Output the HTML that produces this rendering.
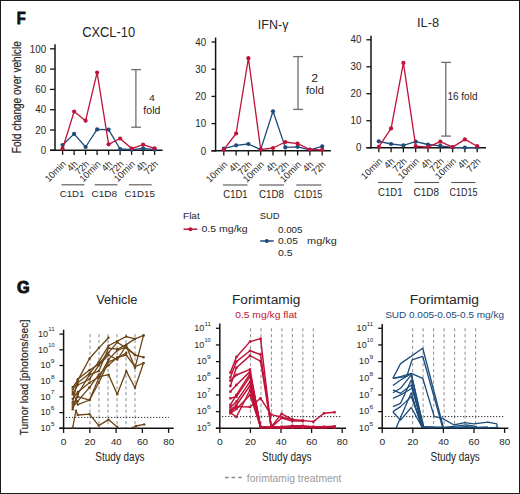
<!DOCTYPE html><html><head><meta charset="utf-8"><style>html,body{margin:0;padding:0;background:#fff;width:520px;height:494px;overflow:hidden}</style></head><body><svg width="520" height="494" viewBox="0 0 520 494" style="display:block;font-family:'Liberation Sans',sans-serif">
<rect x="0" y="0" width="520" height="494" fill="#fff"/>
<rect x="0.5" y="0.5" width="519" height="493" fill="none" stroke="#1a1a1a" stroke-width="1"/>
<text x="16.87" y="24.25" style="font-size:15.84px;font-weight:bold;fill:#111;stroke:#111;stroke-width:0.9px" textLength="8.91" lengthAdjust="spacingAndGlyphs">F</text>
<text x="82.15" y="36.5" style="font-size:14.75px;fill:#262626;stroke:#262626;stroke-width:0px" textLength="52.96" lengthAdjust="spacingAndGlyphs">CXCL-10</text>
<line x1="55" y1="44.3" x2="55" y2="151" stroke="#141414" stroke-width="1.5"/>
<line x1="50" y1="150.3" x2="55" y2="150.3" stroke="#141414" stroke-width="1.3"/>
<text x="40.66" y="154" style="font-size:10.6px;fill:#262626;stroke:#262626;stroke-width:0px" textLength="5.42" lengthAdjust="spacingAndGlyphs">0</text>
<line x1="50" y1="130" x2="55" y2="130" stroke="#141414" stroke-width="1.3"/>
<text x="35.24" y="133.7" style="font-size:10.6px;fill:#262626;stroke:#262626;stroke-width:0px" textLength="10.85" lengthAdjust="spacingAndGlyphs">20</text>
<line x1="50" y1="109.7" x2="55" y2="109.7" stroke="#141414" stroke-width="1.3"/>
<text x="35.24" y="113.4" style="font-size:10.6px;fill:#262626;stroke:#262626;stroke-width:0px" textLength="10.85" lengthAdjust="spacingAndGlyphs">40</text>
<line x1="50" y1="89.4" x2="55" y2="89.4" stroke="#141414" stroke-width="1.3"/>
<text x="35.24" y="93.1" style="font-size:10.6px;fill:#262626;stroke:#262626;stroke-width:0px" textLength="10.85" lengthAdjust="spacingAndGlyphs">60</text>
<line x1="50" y1="69.1" x2="55" y2="69.1" stroke="#141414" stroke-width="1.3"/>
<text x="35.24" y="72.8" style="font-size:10.6px;fill:#262626;stroke:#262626;stroke-width:0px" textLength="10.85" lengthAdjust="spacingAndGlyphs">80</text>
<line x1="50" y1="48.8" x2="55" y2="48.8" stroke="#141414" stroke-width="1.3"/>
<text x="29.81" y="52.5" style="font-size:10.6px;fill:#262626;stroke:#262626;stroke-width:0px" textLength="16.27" lengthAdjust="spacingAndGlyphs">100</text>
<line x1="50" y1="150.3" x2="162.6" y2="150.3" stroke="#141414" stroke-width="1.5"/>
<line x1="62.6" y1="150.3" x2="62.6" y2="154.9" stroke="#141414" stroke-width="1.3"/>
<line x1="74.1" y1="150.3" x2="74.1" y2="154.9" stroke="#141414" stroke-width="1.3"/>
<line x1="85.6" y1="150.3" x2="85.6" y2="154.9" stroke="#141414" stroke-width="1.3"/>
<line x1="97.1" y1="150.3" x2="97.1" y2="154.9" stroke="#141414" stroke-width="1.3"/>
<line x1="108.6" y1="150.3" x2="108.6" y2="154.9" stroke="#141414" stroke-width="1.3"/>
<line x1="120.1" y1="150.3" x2="120.1" y2="154.9" stroke="#141414" stroke-width="1.3"/>
<line x1="131.6" y1="150.3" x2="131.6" y2="154.9" stroke="#141414" stroke-width="1.3"/>
<line x1="143.1" y1="150.3" x2="143.1" y2="154.9" stroke="#141414" stroke-width="1.3"/>
<line x1="154.6" y1="150.3" x2="154.6" y2="154.9" stroke="#141414" stroke-width="1.3"/>
<polyline points="62.6,145 74.1,133.9 85.6,147 97.1,129.4 108.6,129.6 120.1,149 131.6,149.7 143.1,148.4 154.6,149.7" fill="none" stroke="#1c4c7a" stroke-width="1.3" stroke-linejoin="round"/>
<circle cx="62.6" cy="145" r="2.1" fill="#1c4c7a"/>
<circle cx="74.1" cy="133.9" r="2.1" fill="#1c4c7a"/>
<circle cx="85.6" cy="147" r="2.1" fill="#1c4c7a"/>
<circle cx="97.1" cy="129.4" r="2.1" fill="#1c4c7a"/>
<circle cx="108.6" cy="129.6" r="2.1" fill="#1c4c7a"/>
<circle cx="120.1" cy="149" r="2.1" fill="#1c4c7a"/>
<circle cx="131.6" cy="149.7" r="2.1" fill="#1c4c7a"/>
<circle cx="143.1" cy="148.4" r="2.1" fill="#1c4c7a"/>
<circle cx="154.6" cy="149.7" r="2.1" fill="#1c4c7a"/>
<polyline points="62.6,148.7 74.1,111.6 85.6,120.7 97.1,72.6 108.6,144.3 120.1,138.5 131.6,148.6 143.1,144.6 154.6,148.4" fill="none" stroke="#bf1238" stroke-width="1.3" stroke-linejoin="round"/>
<circle cx="62.6" cy="148.7" r="2.1" fill="#bf1238"/>
<circle cx="74.1" cy="111.6" r="2.1" fill="#bf1238"/>
<circle cx="85.6" cy="120.7" r="2.1" fill="#bf1238"/>
<circle cx="97.1" cy="72.6" r="2.1" fill="#bf1238"/>
<circle cx="108.6" cy="144.3" r="2.1" fill="#bf1238"/>
<circle cx="120.1" cy="138.5" r="2.1" fill="#bf1238"/>
<circle cx="131.6" cy="148.6" r="2.1" fill="#bf1238"/>
<circle cx="143.1" cy="144.6" r="2.1" fill="#bf1238"/>
<circle cx="154.6" cy="148.4" r="2.1" fill="#bf1238"/>
<line x1="135.9" y1="69.6" x2="135.9" y2="127.2" stroke="#6e6e6e" stroke-width="1.3"/>
<line x1="131.2" y1="69.6" x2="141" y2="69.6" stroke="#6e6e6e" stroke-width="1.3"/>
<line x1="131.2" y1="127.2" x2="141" y2="127.2" stroke="#6e6e6e" stroke-width="1.3"/>
<g transform="translate(66.7 164.5) rotate(-45) scale(1 1)"><text x="0" y="0" text-anchor="end" style="font-size:9.4px;fill:#262626;stroke:#262626;stroke-width:0px">10min</text></g>
<g transform="translate(78.2 164.5) rotate(-45) scale(1 1)"><text x="0" y="0" text-anchor="end" style="font-size:9.4px;fill:#262626;stroke:#262626;stroke-width:0px">4h</text></g>
<g transform="translate(89.7 164.5) rotate(-45) scale(1 1)"><text x="0" y="0" text-anchor="end" style="font-size:9.4px;fill:#262626;stroke:#262626;stroke-width:0px">72h</text></g>
<g transform="translate(101.2 164.5) rotate(-45) scale(1 1)"><text x="0" y="0" text-anchor="end" style="font-size:9.4px;fill:#262626;stroke:#262626;stroke-width:0px">10min</text></g>
<g transform="translate(112.7 164.5) rotate(-45) scale(1 1)"><text x="0" y="0" text-anchor="end" style="font-size:9.4px;fill:#262626;stroke:#262626;stroke-width:0px">4h</text></g>
<g transform="translate(124.2 164.5) rotate(-45) scale(1 1)"><text x="0" y="0" text-anchor="end" style="font-size:9.4px;fill:#262626;stroke:#262626;stroke-width:0px">72h</text></g>
<g transform="translate(135.7 164.5) rotate(-45) scale(1 1)"><text x="0" y="0" text-anchor="end" style="font-size:9.4px;fill:#262626;stroke:#262626;stroke-width:0px">10min</text></g>
<g transform="translate(147.2 164.5) rotate(-45) scale(1 1)"><text x="0" y="0" text-anchor="end" style="font-size:9.4px;fill:#262626;stroke:#262626;stroke-width:0px">4h</text></g>
<g transform="translate(158.7 164.5) rotate(-45) scale(1 1)"><text x="0" y="0" text-anchor="end" style="font-size:9.4px;fill:#262626;stroke:#262626;stroke-width:0px">72h</text></g>
<line x1="61.5" y1="184.8" x2="84.4" y2="184.8" stroke="#555555" stroke-width="1.1"/>
<line x1="94.7" y1="184.8" x2="117.5" y2="184.8" stroke="#555555" stroke-width="1.1"/>
<line x1="128.9" y1="184.8" x2="151.7" y2="184.8" stroke="#555555" stroke-width="1.1"/>
<text x="59.71" y="197" style="font-size:9.74px;fill:#262626;stroke:#262626;stroke-width:0px" textLength="24.76" lengthAdjust="spacingAndGlyphs">C1D1</text>
<text x="91.49" y="197" style="font-size:9.74px;fill:#262626;stroke:#262626;stroke-width:0px" textLength="25.65" lengthAdjust="spacingAndGlyphs">C1D8</text>
<text x="124.51" y="197" style="font-size:9.74px;fill:#262626;stroke:#262626;stroke-width:0px" textLength="30.3" lengthAdjust="spacingAndGlyphs">C1D15</text>
<text x="148.96" y="101.2" style="font-size:9.01px;fill:#262626;stroke:#262626;stroke-width:0px" textLength="5.85" lengthAdjust="spacingAndGlyphs">4</text>
<text x="143.35" y="113.7" style="font-size:10.35px;fill:#262626;stroke:#262626;stroke-width:0px" textLength="17.03" lengthAdjust="spacingAndGlyphs">fold</text>
<g transform="translate(21.3 152.4) rotate(-90)"><text x="-0.83" y="0" style="font-size:13.11px;fill:#262626;stroke:#262626;stroke-width:0.2px" textLength="111.97" lengthAdjust="spacingAndGlyphs">Fold change over vehicle</text></g>
<text x="257.84" y="29" style="font-size:12.79px;fill:#262626;stroke:#262626;stroke-width:0px" textLength="30.6" lengthAdjust="spacingAndGlyphs">IFN-γ</text>
<line x1="215.6" y1="37.5" x2="215.6" y2="151.5" stroke="#141414" stroke-width="1.5"/>
<line x1="211.5" y1="150.8" x2="215.6" y2="150.8" stroke="#141414" stroke-width="1.3"/>
<text x="200.66" y="154.5" style="font-size:10.6px;fill:#262626;stroke:#262626;stroke-width:0px" textLength="5.42" lengthAdjust="spacingAndGlyphs">0</text>
<line x1="211.5" y1="123.6" x2="215.6" y2="123.6" stroke="#141414" stroke-width="1.3"/>
<text x="195.24" y="127.3" style="font-size:10.6px;fill:#262626;stroke:#262626;stroke-width:0px" textLength="10.85" lengthAdjust="spacingAndGlyphs">10</text>
<line x1="211.5" y1="96.4" x2="215.6" y2="96.4" stroke="#141414" stroke-width="1.3"/>
<text x="195.24" y="100.1" style="font-size:10.6px;fill:#262626;stroke:#262626;stroke-width:0px" textLength="10.85" lengthAdjust="spacingAndGlyphs">20</text>
<line x1="211.5" y1="69.2" x2="215.6" y2="69.2" stroke="#141414" stroke-width="1.3"/>
<text x="195.24" y="72.9" style="font-size:10.6px;fill:#262626;stroke:#262626;stroke-width:0px" textLength="10.85" lengthAdjust="spacingAndGlyphs">30</text>
<line x1="211.5" y1="42" x2="215.6" y2="42" stroke="#141414" stroke-width="1.3"/>
<text x="195.24" y="45.7" style="font-size:10.6px;fill:#262626;stroke:#262626;stroke-width:0px" textLength="10.85" lengthAdjust="spacingAndGlyphs">40</text>
<line x1="211.5" y1="150.8" x2="330.9" y2="150.8" stroke="#141414" stroke-width="1.5"/>
<line x1="223.8" y1="150.8" x2="223.8" y2="155.4" stroke="#141414" stroke-width="1.3"/>
<line x1="236.1" y1="150.8" x2="236.1" y2="155.4" stroke="#141414" stroke-width="1.3"/>
<line x1="248.4" y1="150.8" x2="248.4" y2="155.4" stroke="#141414" stroke-width="1.3"/>
<line x1="260.7" y1="150.8" x2="260.7" y2="155.4" stroke="#141414" stroke-width="1.3"/>
<line x1="273" y1="150.8" x2="273" y2="155.4" stroke="#141414" stroke-width="1.3"/>
<line x1="285.3" y1="150.8" x2="285.3" y2="155.4" stroke="#141414" stroke-width="1.3"/>
<line x1="297.6" y1="150.8" x2="297.6" y2="155.4" stroke="#141414" stroke-width="1.3"/>
<line x1="309.9" y1="150.8" x2="309.9" y2="155.4" stroke="#141414" stroke-width="1.3"/>
<line x1="322.2" y1="150.8" x2="322.2" y2="155.4" stroke="#141414" stroke-width="1.3"/>
<polyline points="223.8,148.7 236.1,145.3 248.4,144 260.7,149.6 273,111.3 285.3,147.4 297.6,146.8 309.9,149.8 322.2,146.4" fill="none" stroke="#1c4c7a" stroke-width="1.3" stroke-linejoin="round"/>
<circle cx="223.8" cy="148.7" r="2.1" fill="#1c4c7a"/>
<circle cx="236.1" cy="145.3" r="2.1" fill="#1c4c7a"/>
<circle cx="248.4" cy="144" r="2.1" fill="#1c4c7a"/>
<circle cx="260.7" cy="149.6" r="2.1" fill="#1c4c7a"/>
<circle cx="273" cy="111.3" r="2.1" fill="#1c4c7a"/>
<circle cx="285.3" cy="147.4" r="2.1" fill="#1c4c7a"/>
<circle cx="297.6" cy="146.8" r="2.1" fill="#1c4c7a"/>
<circle cx="309.9" cy="149.8" r="2.1" fill="#1c4c7a"/>
<circle cx="322.2" cy="146.4" r="2.1" fill="#1c4c7a"/>
<polyline points="223.8,149.6 236.1,133.5 248.4,58.2 260.7,149.6 273,148 285.3,142 297.6,143.7 309.9,149.5 322.2,149.8" fill="none" stroke="#bf1238" stroke-width="1.3" stroke-linejoin="round"/>
<circle cx="223.8" cy="149.6" r="2.1" fill="#bf1238"/>
<circle cx="236.1" cy="133.5" r="2.1" fill="#bf1238"/>
<circle cx="248.4" cy="58.2" r="2.1" fill="#bf1238"/>
<circle cx="260.7" cy="149.6" r="2.1" fill="#bf1238"/>
<circle cx="273" cy="148" r="2.1" fill="#bf1238"/>
<circle cx="285.3" cy="142" r="2.1" fill="#bf1238"/>
<circle cx="297.6" cy="143.7" r="2.1" fill="#bf1238"/>
<circle cx="309.9" cy="149.5" r="2.1" fill="#bf1238"/>
<circle cx="322.2" cy="149.8" r="2.1" fill="#bf1238"/>
<line x1="298" y1="56.6" x2="298" y2="109.4" stroke="#6e6e6e" stroke-width="1.3"/>
<line x1="293.1" y1="56.6" x2="303" y2="56.6" stroke="#6e6e6e" stroke-width="1.3"/>
<line x1="293.1" y1="109.4" x2="303" y2="109.4" stroke="#6e6e6e" stroke-width="1.3"/>
<g transform="translate(227.9 165) rotate(-45) scale(1 1)"><text x="0" y="0" text-anchor="end" style="font-size:9.4px;fill:#262626;stroke:#262626;stroke-width:0px">10min</text></g>
<g transform="translate(240.2 165) rotate(-45) scale(1 1)"><text x="0" y="0" text-anchor="end" style="font-size:9.4px;fill:#262626;stroke:#262626;stroke-width:0px">4h</text></g>
<g transform="translate(252.5 165) rotate(-45) scale(1 1)"><text x="0" y="0" text-anchor="end" style="font-size:9.4px;fill:#262626;stroke:#262626;stroke-width:0px">72h</text></g>
<g transform="translate(264.8 165) rotate(-45) scale(1 1)"><text x="0" y="0" text-anchor="end" style="font-size:9.4px;fill:#262626;stroke:#262626;stroke-width:0px">10min</text></g>
<g transform="translate(277.1 165) rotate(-45) scale(1 1)"><text x="0" y="0" text-anchor="end" style="font-size:9.4px;fill:#262626;stroke:#262626;stroke-width:0px">4h</text></g>
<g transform="translate(289.4 165) rotate(-45) scale(1 1)"><text x="0" y="0" text-anchor="end" style="font-size:9.4px;fill:#262626;stroke:#262626;stroke-width:0px">72h</text></g>
<g transform="translate(301.7 165) rotate(-45) scale(1 1)"><text x="0" y="0" text-anchor="end" style="font-size:9.4px;fill:#262626;stroke:#262626;stroke-width:0px">10min</text></g>
<g transform="translate(314 165) rotate(-45) scale(1 1)"><text x="0" y="0" text-anchor="end" style="font-size:9.4px;fill:#262626;stroke:#262626;stroke-width:0px">4h</text></g>
<g transform="translate(326.3 165) rotate(-45) scale(1 1)"><text x="0" y="0" text-anchor="end" style="font-size:9.4px;fill:#262626;stroke:#262626;stroke-width:0px">72h</text></g>
<line x1="223" y1="185" x2="247.5" y2="185" stroke="#555555" stroke-width="1.1"/>
<line x1="259.3" y1="185" x2="284" y2="185" stroke="#555555" stroke-width="1.1"/>
<line x1="296.3" y1="185" x2="321.3" y2="185" stroke="#555555" stroke-width="1.1"/>
<text x="223.32" y="198" style="font-size:10.31px;fill:#262626;stroke:#262626;stroke-width:0px" textLength="24.14" lengthAdjust="spacingAndGlyphs">C1D1</text>
<text x="259.01" y="198" style="font-size:10.31px;fill:#262626;stroke:#262626;stroke-width:0px" textLength="24.92" lengthAdjust="spacingAndGlyphs">C1D8</text>
<text x="294.04" y="198" style="font-size:10.31px;fill:#262626;stroke:#262626;stroke-width:0px" textLength="28.34" lengthAdjust="spacingAndGlyphs">C1D15</text>
<text x="311.38" y="82.4" style="font-size:10.6px;fill:#262626;stroke:#262626;stroke-width:0px" textLength="6.84" lengthAdjust="spacingAndGlyphs">2</text>
<text x="306.04" y="93.8" style="font-size:10.35px;fill:#262626;stroke:#262626;stroke-width:0px" textLength="17.87" lengthAdjust="spacingAndGlyphs">fold</text>
<text x="417.01" y="27.1" style="font-size:12.6px;fill:#262626;stroke:#262626;stroke-width:0px" textLength="22.14" lengthAdjust="spacingAndGlyphs">IL-8</text>
<line x1="371" y1="35.7" x2="371" y2="148.4" stroke="#141414" stroke-width="1.5"/>
<line x1="366.4" y1="147.7" x2="371" y2="147.7" stroke="#141414" stroke-width="1.3"/>
<text x="355.96" y="151.4" style="font-size:10.6px;fill:#262626;stroke:#262626;stroke-width:0px" textLength="5.42" lengthAdjust="spacingAndGlyphs">0</text>
<line x1="366.4" y1="120.72" x2="371" y2="120.72" stroke="#141414" stroke-width="1.3"/>
<text x="350.54" y="124.42" style="font-size:10.6px;fill:#262626;stroke:#262626;stroke-width:0px" textLength="10.85" lengthAdjust="spacingAndGlyphs">10</text>
<line x1="366.4" y1="93.74" x2="371" y2="93.74" stroke="#141414" stroke-width="1.3"/>
<text x="350.54" y="97.44" style="font-size:10.6px;fill:#262626;stroke:#262626;stroke-width:0px" textLength="10.85" lengthAdjust="spacingAndGlyphs">20</text>
<line x1="366.4" y1="66.76" x2="371" y2="66.76" stroke="#141414" stroke-width="1.3"/>
<text x="350.54" y="70.46" style="font-size:10.6px;fill:#262626;stroke:#262626;stroke-width:0px" textLength="10.85" lengthAdjust="spacingAndGlyphs">30</text>
<line x1="366.4" y1="39.78" x2="371" y2="39.78" stroke="#141414" stroke-width="1.3"/>
<text x="350.54" y="43.48" style="font-size:10.6px;fill:#262626;stroke:#262626;stroke-width:0px" textLength="10.85" lengthAdjust="spacingAndGlyphs">40</text>
<line x1="366.4" y1="147.7" x2="486" y2="147.7" stroke="#141414" stroke-width="1.5"/>
<line x1="378.8" y1="147.7" x2="378.8" y2="152.3" stroke="#141414" stroke-width="1.3"/>
<line x1="391.1" y1="147.7" x2="391.1" y2="152.3" stroke="#141414" stroke-width="1.3"/>
<line x1="403.4" y1="147.7" x2="403.4" y2="152.3" stroke="#141414" stroke-width="1.3"/>
<line x1="415.7" y1="147.7" x2="415.7" y2="152.3" stroke="#141414" stroke-width="1.3"/>
<line x1="428" y1="147.7" x2="428" y2="152.3" stroke="#141414" stroke-width="1.3"/>
<line x1="440.3" y1="147.7" x2="440.3" y2="152.3" stroke="#141414" stroke-width="1.3"/>
<line x1="452.6" y1="147.7" x2="452.6" y2="152.3" stroke="#141414" stroke-width="1.3"/>
<line x1="464.9" y1="147.7" x2="464.9" y2="152.3" stroke="#141414" stroke-width="1.3"/>
<line x1="477.2" y1="147.7" x2="477.2" y2="152.3" stroke="#141414" stroke-width="1.3"/>
<polyline points="378.8,141.3 391.1,144 403.4,145.3 415.7,141.7 428,144.5 440.3,145.8 452.6,147.4 464.9,147.6 477.2,147.6" fill="none" stroke="#1c4c7a" stroke-width="1.3" stroke-linejoin="round"/>
<circle cx="378.8" cy="141.3" r="2.1" fill="#1c4c7a"/>
<circle cx="391.1" cy="144" r="2.1" fill="#1c4c7a"/>
<circle cx="403.4" cy="145.3" r="2.1" fill="#1c4c7a"/>
<circle cx="415.7" cy="141.7" r="2.1" fill="#1c4c7a"/>
<circle cx="428" cy="144.5" r="2.1" fill="#1c4c7a"/>
<circle cx="440.3" cy="145.8" r="2.1" fill="#1c4c7a"/>
<circle cx="452.6" cy="147.4" r="2.1" fill="#1c4c7a"/>
<circle cx="464.9" cy="147.6" r="2.1" fill="#1c4c7a"/>
<circle cx="477.2" cy="147.6" r="2.1" fill="#1c4c7a"/>
<polyline points="378.8,146.9 391.1,128.4 403.4,62.9 415.7,146.2 428,147.1 440.3,141.7 452.6,147.1 464.9,139.4 477.2,146.2" fill="none" stroke="#bf1238" stroke-width="1.3" stroke-linejoin="round"/>
<circle cx="378.8" cy="146.9" r="2.1" fill="#bf1238"/>
<circle cx="391.1" cy="128.4" r="2.1" fill="#bf1238"/>
<circle cx="403.4" cy="62.9" r="2.1" fill="#bf1238"/>
<circle cx="415.7" cy="146.2" r="2.1" fill="#bf1238"/>
<circle cx="428" cy="147.1" r="2.1" fill="#bf1238"/>
<circle cx="440.3" cy="141.7" r="2.1" fill="#bf1238"/>
<circle cx="452.6" cy="147.1" r="2.1" fill="#bf1238"/>
<circle cx="464.9" cy="139.4" r="2.1" fill="#bf1238"/>
<circle cx="477.2" cy="146.2" r="2.1" fill="#bf1238"/>
<line x1="445.8" y1="62.4" x2="445.8" y2="136.1" stroke="#6e6e6e" stroke-width="1.3"/>
<line x1="441.2" y1="62.4" x2="451" y2="62.4" stroke="#6e6e6e" stroke-width="1.3"/>
<line x1="441.2" y1="136.1" x2="451" y2="136.1" stroke="#6e6e6e" stroke-width="1.3"/>
<g transform="translate(382.9 161.9) rotate(-45) scale(1 1)"><text x="0" y="0" text-anchor="end" style="font-size:9.4px;fill:#262626;stroke:#262626;stroke-width:0px">10min</text></g>
<g transform="translate(395.2 161.9) rotate(-45) scale(1 1)"><text x="0" y="0" text-anchor="end" style="font-size:9.4px;fill:#262626;stroke:#262626;stroke-width:0px">4h</text></g>
<g transform="translate(407.5 161.9) rotate(-45) scale(1 1)"><text x="0" y="0" text-anchor="end" style="font-size:9.4px;fill:#262626;stroke:#262626;stroke-width:0px">72h</text></g>
<g transform="translate(419.8 161.9) rotate(-45) scale(1 1)"><text x="0" y="0" text-anchor="end" style="font-size:9.4px;fill:#262626;stroke:#262626;stroke-width:0px">10min</text></g>
<g transform="translate(432.1 161.9) rotate(-45) scale(1 1)"><text x="0" y="0" text-anchor="end" style="font-size:9.4px;fill:#262626;stroke:#262626;stroke-width:0px">4h</text></g>
<g transform="translate(444.4 161.9) rotate(-45) scale(1 1)"><text x="0" y="0" text-anchor="end" style="font-size:9.4px;fill:#262626;stroke:#262626;stroke-width:0px">72h</text></g>
<g transform="translate(456.7 161.9) rotate(-45) scale(1 1)"><text x="0" y="0" text-anchor="end" style="font-size:9.4px;fill:#262626;stroke:#262626;stroke-width:0px">10min</text></g>
<g transform="translate(469 161.9) rotate(-45) scale(1 1)"><text x="0" y="0" text-anchor="end" style="font-size:9.4px;fill:#262626;stroke:#262626;stroke-width:0px">4h</text></g>
<g transform="translate(481.3 161.9) rotate(-45) scale(1 1)"><text x="0" y="0" text-anchor="end" style="font-size:9.4px;fill:#262626;stroke:#262626;stroke-width:0px">72h</text></g>
<line x1="378" y1="182.5" x2="402.5" y2="182.5" stroke="#555555" stroke-width="1.1"/>
<line x1="414.3" y1="182.5" x2="439" y2="182.5" stroke="#555555" stroke-width="1.1"/>
<line x1="451.3" y1="182.5" x2="475.5" y2="182.5" stroke="#555555" stroke-width="1.1"/>
<text x="378.01" y="196.2" style="font-size:10.31px;fill:#262626;stroke:#262626;stroke-width:0px" textLength="24.45" lengthAdjust="spacingAndGlyphs">C1D1</text>
<text x="413.49" y="196.2" style="font-size:10.31px;fill:#262626;stroke:#262626;stroke-width:0px" textLength="25.44" lengthAdjust="spacingAndGlyphs">C1D8</text>
<text x="449.55" y="196.2" style="font-size:10.31px;fill:#262626;stroke:#262626;stroke-width:0px" textLength="27.83" lengthAdjust="spacingAndGlyphs">C1D15</text>
<text x="447.44" y="100.4" style="font-size:10.07px;fill:#262626;stroke:#262626;stroke-width:0px" textLength="30.01" lengthAdjust="spacingAndGlyphs">16 fold</text>
<text x="183.08" y="219.2" style="font-size:8.97px;fill:#262626;stroke:#262626;stroke-width:0px" textLength="16.59" lengthAdjust="spacingAndGlyphs">Flat</text>
<line x1="183.5" y1="229.2" x2="197.3" y2="229.2" stroke="#bf1238" stroke-width="1.5"/>
<circle cx="190.4" cy="229.2" r="2" fill="#bf1238"/>
<text x="201.49" y="232.4" style="font-size:9.11px;fill:#262626;stroke:#262626;stroke-width:0px" textLength="46.19" lengthAdjust="spacingAndGlyphs">0.5 mg/kg</text>
<text x="259.77" y="219.2" style="font-size:9.17px;fill:#262626;stroke:#262626;stroke-width:0px" textLength="19.88" lengthAdjust="spacingAndGlyphs">SUD</text>
<text x="278.02" y="232.5" style="font-size:9.88px;fill:#262626;stroke:#262626;stroke-width:0px" textLength="24.49" lengthAdjust="spacingAndGlyphs">0.005</text>
<text x="278" y="244.3" style="font-size:9.74px;fill:#262626;stroke:#262626;stroke-width:0px" textLength="19.83" lengthAdjust="spacingAndGlyphs">0.05</text>
<text x="307.08" y="244.3" style="font-size:9.8px;fill:#262626;stroke:#262626;stroke-width:0px" textLength="29.62" lengthAdjust="spacingAndGlyphs">mg/kg</text>
<text x="277.99" y="256" style="font-size:9.6px;fill:#262626;stroke:#262626;stroke-width:0px" textLength="14.65" lengthAdjust="spacingAndGlyphs">0.5</text>
<line x1="260.2" y1="241" x2="273.7" y2="241" stroke="#1c4c7a" stroke-width="1.5"/>
<circle cx="266.8" cy="241" r="2" fill="#1c4c7a"/>
<text x="16.98" y="293.25" style="font-size:15.61px;font-weight:bold;fill:#111;stroke:#111;stroke-width:0.9px" textLength="12.68" lengthAdjust="spacingAndGlyphs">G</text>
<line x1="90" y1="334.1" x2="90" y2="428.3" stroke="#9a9a9a" stroke-width="1.1" stroke-dasharray="3.2 2.6"/>
<line x1="99" y1="334.1" x2="99" y2="428.3" stroke="#9a9a9a" stroke-width="1.1" stroke-dasharray="3.2 2.6"/>
<line x1="108" y1="334.1" x2="108" y2="428.3" stroke="#9a9a9a" stroke-width="1.1" stroke-dasharray="3.2 2.6"/>
<line x1="117" y1="334.1" x2="117" y2="428.3" stroke="#9a9a9a" stroke-width="1.1" stroke-dasharray="3.2 2.6"/>
<line x1="126" y1="334.1" x2="126" y2="428.3" stroke="#9a9a9a" stroke-width="1.1" stroke-dasharray="3.2 2.6"/>
<line x1="135" y1="334.1" x2="135" y2="428.3" stroke="#9a9a9a" stroke-width="1.1" stroke-dasharray="3.2 2.6"/>
<line x1="66" y1="417.4" x2="169" y2="417.4" stroke="#333" stroke-width="1" stroke-dasharray="1.3 1.7"/>
<line x1="63.6" y1="329.7" x2="63.6" y2="429" stroke="#141414" stroke-width="1.5"/>
<line x1="59.4" y1="428.3" x2="63.6" y2="428.3" stroke="#141414" stroke-width="1.3"/>
<text x="40.51" y="431.1" style="font-size:9.88px;fill:#262626;stroke:#262626;stroke-width:0px" textLength="10.04" lengthAdjust="spacingAndGlyphs">10</text>
<text x="50.94" y="425.6" style="font-size:5.67px;fill:#262626;stroke:#262626;stroke-width:0px" textLength="3.64" lengthAdjust="spacingAndGlyphs">5</text>
<line x1="59.4" y1="412.6" x2="63.6" y2="412.6" stroke="#141414" stroke-width="1.3"/>
<text x="40.51" y="415.4" style="font-size:9.88px;fill:#262626;stroke:#262626;stroke-width:0px" textLength="10.04" lengthAdjust="spacingAndGlyphs">10</text>
<text x="50.86" y="409.9" style="font-size:5.59px;fill:#262626;stroke:#262626;stroke-width:0px" textLength="3.74" lengthAdjust="spacingAndGlyphs">6</text>
<line x1="59.4" y1="396.9" x2="63.6" y2="396.9" stroke="#141414" stroke-width="1.3"/>
<text x="40.51" y="399.7" style="font-size:9.88px;fill:#262626;stroke:#262626;stroke-width:0px" textLength="10.04" lengthAdjust="spacingAndGlyphs">10</text>
<text x="50.85" y="394.2" style="font-size:5.67px;fill:#262626;stroke:#262626;stroke-width:0px" textLength="3.79" lengthAdjust="spacingAndGlyphs">7</text>
<line x1="59.4" y1="381.2" x2="63.6" y2="381.2" stroke="#141414" stroke-width="1.3"/>
<text x="40.51" y="384" style="font-size:9.88px;fill:#262626;stroke:#262626;stroke-width:0px" textLength="10.04" lengthAdjust="spacingAndGlyphs">10</text>
<text x="50.91" y="378.5" style="font-size:5.59px;fill:#262626;stroke:#262626;stroke-width:0px" textLength="3.67" lengthAdjust="spacingAndGlyphs">8</text>
<line x1="59.4" y1="365.5" x2="63.6" y2="365.5" stroke="#141414" stroke-width="1.3"/>
<text x="40.51" y="368.3" style="font-size:9.88px;fill:#262626;stroke:#262626;stroke-width:0px" textLength="10.04" lengthAdjust="spacingAndGlyphs">10</text>
<text x="50.89" y="362.8" style="font-size:5.59px;fill:#262626;stroke:#262626;stroke-width:0px" textLength="3.73" lengthAdjust="spacingAndGlyphs">9</text>
<line x1="59.4" y1="349.8" x2="63.6" y2="349.8" stroke="#141414" stroke-width="1.3"/>
<text x="38.01" y="352.6" style="font-size:9.88px;fill:#262626;stroke:#262626;stroke-width:0px" textLength="10.04" lengthAdjust="spacingAndGlyphs">10</text>
<text x="48.27" y="347.1" style="font-size:5.59px;fill:#262626;stroke:#262626;stroke-width:0px" textLength="6.25" lengthAdjust="spacingAndGlyphs">10</text>
<line x1="59.4" y1="334.1" x2="63.6" y2="334.1" stroke="#141414" stroke-width="1.3"/>
<text x="38.01" y="336.9" style="font-size:9.88px;fill:#262626;stroke:#262626;stroke-width:0px" textLength="10.04" lengthAdjust="spacingAndGlyphs">10</text>
<text x="48.27" y="331.4" style="font-size:5.67px;fill:#262626;stroke:#262626;stroke-width:0px" textLength="6.31" lengthAdjust="spacingAndGlyphs">11</text>
<line x1="59.4" y1="428.3" x2="173.7" y2="428.3" stroke="#141414" stroke-width="1.5"/>
<line x1="63.6" y1="428.3" x2="63.6" y2="432.9" stroke="#141414" stroke-width="1.3"/>
<text x="60.85" y="444.6" style="font-size:9.45px;fill:#262626;stroke:#262626;stroke-width:0px" textLength="5.7" lengthAdjust="spacingAndGlyphs">0</text>
<line x1="89.85" y1="428.3" x2="89.85" y2="432.9" stroke="#141414" stroke-width="1.3"/>
<text x="84.4" y="444.6" style="font-size:9.45px;fill:#262626;stroke:#262626;stroke-width:0px" textLength="10.98" lengthAdjust="spacingAndGlyphs">20</text>
<line x1="116.1" y1="428.3" x2="116.1" y2="432.9" stroke="#141414" stroke-width="1.3"/>
<text x="110.93" y="444.6" style="font-size:9.45px;fill:#262626;stroke:#262626;stroke-width:0px" textLength="10.7" lengthAdjust="spacingAndGlyphs">40</text>
<line x1="142.35" y1="428.3" x2="142.35" y2="432.9" stroke="#141414" stroke-width="1.3"/>
<text x="136.9" y="444.6" style="font-size:9.45px;fill:#262626;stroke:#262626;stroke-width:0px" textLength="10.99" lengthAdjust="spacingAndGlyphs">60</text>
<line x1="168.6" y1="428.3" x2="168.6" y2="432.9" stroke="#141414" stroke-width="1.3"/>
<text x="163.22" y="444.6" style="font-size:9.45px;fill:#262626;stroke:#262626;stroke-width:0px" textLength="10.91" lengthAdjust="spacingAndGlyphs">80</text>
<polyline points="72.69,387.31 77.77,380.39 89.54,358.46 98.77,348.08 108.47,337.69" fill="none" stroke="#6b4418" stroke-width="1.3" stroke-linejoin="round"/>
<circle cx="72.69" cy="387.31" r="1.2" fill="#6b4418"/>
<circle cx="77.77" cy="380.39" r="1.2" fill="#6b4418"/>
<circle cx="89.54" cy="358.46" r="1.2" fill="#6b4418"/>
<circle cx="98.77" cy="348.08" r="1.2" fill="#6b4418"/>
<circle cx="108.47" cy="337.69" r="1.2" fill="#6b4418"/>
<polyline points="72.69,389.62 77.77,382.7 89.54,373.47 98.77,361.93 108.47,345.77 117.24,341.16 126.24,336.54 135.01,338.85" fill="none" stroke="#6b4418" stroke-width="1.3" stroke-linejoin="round"/>
<circle cx="72.69" cy="389.62" r="1.2" fill="#6b4418"/>
<circle cx="77.77" cy="382.7" r="1.2" fill="#6b4418"/>
<circle cx="89.54" cy="373.47" r="1.2" fill="#6b4418"/>
<circle cx="98.77" cy="361.93" r="1.2" fill="#6b4418"/>
<circle cx="108.47" cy="345.77" r="1.2" fill="#6b4418"/>
<circle cx="117.24" cy="341.16" r="1.2" fill="#6b4418"/>
<circle cx="126.24" cy="336.54" r="1.2" fill="#6b4418"/>
<circle cx="135.01" cy="338.85" r="1.2" fill="#6b4418"/>
<polyline points="72.69,394.24 77.77,385 89.54,379.23 98.77,365.39 108.47,355 117.24,359.62 126.24,345.77 135.01,367.7 143.54,335.39" fill="none" stroke="#6b4418" stroke-width="1.3" stroke-linejoin="round"/>
<circle cx="72.69" cy="394.24" r="1.2" fill="#6b4418"/>
<circle cx="77.77" cy="385" r="1.2" fill="#6b4418"/>
<circle cx="89.54" cy="379.23" r="1.2" fill="#6b4418"/>
<circle cx="98.77" cy="365.39" r="1.2" fill="#6b4418"/>
<circle cx="108.47" cy="355" r="1.2" fill="#6b4418"/>
<circle cx="117.24" cy="359.62" r="1.2" fill="#6b4418"/>
<circle cx="126.24" cy="345.77" r="1.2" fill="#6b4418"/>
<circle cx="135.01" cy="367.7" r="1.2" fill="#6b4418"/>
<circle cx="143.54" cy="335.39" r="1.2" fill="#6b4418"/>
<polyline points="72.69,398.85 77.77,391.93 89.54,382.7 98.77,376.93 108.47,374.62 117.24,394.24 126.24,371.16 135.01,387.77 143.54,363.08" fill="none" stroke="#6b4418" stroke-width="1.3" stroke-linejoin="round"/>
<circle cx="72.69" cy="398.85" r="1.2" fill="#6b4418"/>
<circle cx="77.77" cy="391.93" r="1.2" fill="#6b4418"/>
<circle cx="89.54" cy="382.7" r="1.2" fill="#6b4418"/>
<circle cx="98.77" cy="376.93" r="1.2" fill="#6b4418"/>
<circle cx="108.47" cy="374.62" r="1.2" fill="#6b4418"/>
<circle cx="117.24" cy="394.24" r="1.2" fill="#6b4418"/>
<circle cx="126.24" cy="371.16" r="1.2" fill="#6b4418"/>
<circle cx="135.01" cy="387.77" r="1.2" fill="#6b4418"/>
<circle cx="143.54" cy="363.08" r="1.2" fill="#6b4418"/>
<polyline points="72.69,404.62 77.77,396.54 89.54,400.01 98.77,378.08 108.47,359.62 117.24,350.39 126.24,346.92 135.01,355 143.54,357.31" fill="none" stroke="#6b4418" stroke-width="1.3" stroke-linejoin="round"/>
<circle cx="72.69" cy="404.62" r="1.2" fill="#6b4418"/>
<circle cx="77.77" cy="396.54" r="1.2" fill="#6b4418"/>
<circle cx="89.54" cy="400.01" r="1.2" fill="#6b4418"/>
<circle cx="98.77" cy="378.08" r="1.2" fill="#6b4418"/>
<circle cx="108.47" cy="359.62" r="1.2" fill="#6b4418"/>
<circle cx="117.24" cy="350.39" r="1.2" fill="#6b4418"/>
<circle cx="126.24" cy="346.92" r="1.2" fill="#6b4418"/>
<circle cx="135.01" cy="355" r="1.2" fill="#6b4418"/>
<circle cx="143.54" cy="357.31" r="1.2" fill="#6b4418"/>
<polyline points="72.69,406.93 77.77,401.16 89.54,387.31 98.77,374.62 108.47,365.39 117.24,357.31 126.24,355 135.01,366.54 143.54,363.08" fill="none" stroke="#6b4418" stroke-width="1.3" stroke-linejoin="round"/>
<circle cx="72.69" cy="406.93" r="1.2" fill="#6b4418"/>
<circle cx="77.77" cy="401.16" r="1.2" fill="#6b4418"/>
<circle cx="89.54" cy="387.31" r="1.2" fill="#6b4418"/>
<circle cx="98.77" cy="374.62" r="1.2" fill="#6b4418"/>
<circle cx="108.47" cy="365.39" r="1.2" fill="#6b4418"/>
<circle cx="117.24" cy="357.31" r="1.2" fill="#6b4418"/>
<circle cx="126.24" cy="355" r="1.2" fill="#6b4418"/>
<circle cx="135.01" cy="366.54" r="1.2" fill="#6b4418"/>
<circle cx="143.54" cy="363.08" r="1.2" fill="#6b4418"/>
<polyline points="72.69,409.24 77.77,394.24 89.54,374.62 98.77,371.16 108.47,348.08 117.24,349.23 126.24,344.62 135.01,338.85 143.54,335.39" fill="none" stroke="#6b4418" stroke-width="1.3" stroke-linejoin="round"/>
<circle cx="72.69" cy="409.24" r="1.2" fill="#6b4418"/>
<circle cx="77.77" cy="394.24" r="1.2" fill="#6b4418"/>
<circle cx="89.54" cy="374.62" r="1.2" fill="#6b4418"/>
<circle cx="98.77" cy="371.16" r="1.2" fill="#6b4418"/>
<circle cx="108.47" cy="348.08" r="1.2" fill="#6b4418"/>
<circle cx="117.24" cy="349.23" r="1.2" fill="#6b4418"/>
<circle cx="126.24" cy="344.62" r="1.2" fill="#6b4418"/>
<circle cx="135.01" cy="338.85" r="1.2" fill="#6b4418"/>
<circle cx="143.54" cy="335.39" r="1.2" fill="#6b4418"/>
<polyline points="72.69,427.7 75.91,410.62 77.77,415.01 89.54,414.08 98.77,425.62 108.47,419.62 117.24,427.01" fill="none" stroke="#6b4418" stroke-width="1.3" stroke-linejoin="round"/>
<circle cx="72.69" cy="427.7" r="1.2" fill="#6b4418"/>
<circle cx="75.91" cy="410.62" r="1.2" fill="#6b4418"/>
<circle cx="77.77" cy="415.01" r="1.2" fill="#6b4418"/>
<circle cx="89.54" cy="414.08" r="1.2" fill="#6b4418"/>
<circle cx="98.77" cy="425.62" r="1.2" fill="#6b4418"/>
<circle cx="108.47" cy="419.62" r="1.2" fill="#6b4418"/>
<circle cx="117.24" cy="427.01" r="1.2" fill="#6b4418"/>
<polyline points="72.69,391.93 77.77,404.62 89.54,400.01 98.77,382.7 108.47,361.93 117.24,358.46 126.24,352.69" fill="none" stroke="#6b4418" stroke-width="1.3" stroke-linejoin="round"/>
<circle cx="72.69" cy="391.93" r="1.2" fill="#6b4418"/>
<circle cx="77.77" cy="404.62" r="1.2" fill="#6b4418"/>
<circle cx="89.54" cy="400.01" r="1.2" fill="#6b4418"/>
<circle cx="98.77" cy="382.7" r="1.2" fill="#6b4418"/>
<circle cx="108.47" cy="361.93" r="1.2" fill="#6b4418"/>
<circle cx="117.24" cy="358.46" r="1.2" fill="#6b4418"/>
<circle cx="126.24" cy="352.69" r="1.2" fill="#6b4418"/>
<polyline points="72.69,402.31 77.77,379.23 89.54,370 98.77,364.23 108.47,352.69 117.24,342.31 126.24,348.08 135.01,355" fill="none" stroke="#6b4418" stroke-width="1.3" stroke-linejoin="round"/>
<circle cx="72.69" cy="402.31" r="1.2" fill="#6b4418"/>
<circle cx="77.77" cy="379.23" r="1.2" fill="#6b4418"/>
<circle cx="89.54" cy="370" r="1.2" fill="#6b4418"/>
<circle cx="98.77" cy="364.23" r="1.2" fill="#6b4418"/>
<circle cx="108.47" cy="352.69" r="1.2" fill="#6b4418"/>
<circle cx="117.24" cy="342.31" r="1.2" fill="#6b4418"/>
<circle cx="126.24" cy="348.08" r="1.2" fill="#6b4418"/>
<circle cx="135.01" cy="355" r="1.2" fill="#6b4418"/>
<polyline points="131.5,427.9 136,426 144.2,424.4" fill="none" stroke="#6b4418" stroke-width="1.3" stroke-linejoin="round"/>
<circle cx="136" cy="426" r="1.2" fill="#6b4418"/>
<circle cx="144.2" cy="424.4" r="1.2" fill="#6b4418"/>
<text x="96.14" y="303.8" style="font-size:13.25px;fill:#262626;stroke:#262626;stroke-width:0px" textLength="41.32" lengthAdjust="spacingAndGlyphs">Vehicle</text>
<text x="95.3" y="461.25" style="font-size:12.77px;fill:#262626;stroke:#262626;stroke-width:0px" textLength="49.31" lengthAdjust="spacingAndGlyphs">Study days</text>
<g transform="translate(28.4 435.3) rotate(-90)"><text x="-0.23" y="0" style="font-size:11.73px;fill:#262626;stroke:#262626;stroke-width:0.2px" textLength="115.76" lengthAdjust="spacingAndGlyphs">Tumor load [photons/sec]</text></g>
<line x1="250.5" y1="328.28" x2="250.5" y2="428.3" stroke="#9a9a9a" stroke-width="1.1" stroke-dasharray="3.2 2.6"/>
<line x1="260.97" y1="328.28" x2="260.97" y2="428.3" stroke="#9a9a9a" stroke-width="1.1" stroke-dasharray="3.2 2.6"/>
<line x1="271.44" y1="328.28" x2="271.44" y2="428.3" stroke="#9a9a9a" stroke-width="1.1" stroke-dasharray="3.2 2.6"/>
<line x1="281.91" y1="328.28" x2="281.91" y2="428.3" stroke="#9a9a9a" stroke-width="1.1" stroke-dasharray="3.2 2.6"/>
<line x1="292.38" y1="328.28" x2="292.38" y2="428.3" stroke="#9a9a9a" stroke-width="1.1" stroke-dasharray="3.2 2.6"/>
<line x1="302.85" y1="328.28" x2="302.85" y2="428.3" stroke="#9a9a9a" stroke-width="1.1" stroke-dasharray="3.2 2.6"/>
<line x1="313.32" y1="328.28" x2="313.32" y2="428.3" stroke="#9a9a9a" stroke-width="1.1" stroke-dasharray="3.2 2.6"/>
<line x1="222" y1="416.6" x2="341.5" y2="416.6" stroke="#333" stroke-width="1" stroke-dasharray="1.3 1.7"/>
<line x1="219.8" y1="323.6" x2="219.8" y2="429" stroke="#141414" stroke-width="1.5"/>
<line x1="215.9" y1="428.3" x2="219.8" y2="428.3" stroke="#141414" stroke-width="1.3"/>
<text x="196.71" y="431.1" style="font-size:9.88px;fill:#262626;stroke:#262626;stroke-width:0px" textLength="10.04" lengthAdjust="spacingAndGlyphs">10</text>
<text x="207.14" y="425.6" style="font-size:5.67px;fill:#262626;stroke:#262626;stroke-width:0px" textLength="3.64" lengthAdjust="spacingAndGlyphs">5</text>
<line x1="215.9" y1="411.63" x2="219.8" y2="411.63" stroke="#141414" stroke-width="1.3"/>
<text x="196.71" y="414.43" style="font-size:9.88px;fill:#262626;stroke:#262626;stroke-width:0px" textLength="10.04" lengthAdjust="spacingAndGlyphs">10</text>
<text x="207.06" y="408.93" style="font-size:5.59px;fill:#262626;stroke:#262626;stroke-width:0px" textLength="3.74" lengthAdjust="spacingAndGlyphs">6</text>
<line x1="215.9" y1="394.96" x2="219.8" y2="394.96" stroke="#141414" stroke-width="1.3"/>
<text x="196.71" y="397.76" style="font-size:9.88px;fill:#262626;stroke:#262626;stroke-width:0px" textLength="10.04" lengthAdjust="spacingAndGlyphs">10</text>
<text x="207.05" y="392.26" style="font-size:5.67px;fill:#262626;stroke:#262626;stroke-width:0px" textLength="3.79" lengthAdjust="spacingAndGlyphs">7</text>
<line x1="215.9" y1="378.29" x2="219.8" y2="378.29" stroke="#141414" stroke-width="1.3"/>
<text x="196.71" y="381.09" style="font-size:9.88px;fill:#262626;stroke:#262626;stroke-width:0px" textLength="10.04" lengthAdjust="spacingAndGlyphs">10</text>
<text x="207.11" y="375.59" style="font-size:5.59px;fill:#262626;stroke:#262626;stroke-width:0px" textLength="3.67" lengthAdjust="spacingAndGlyphs">8</text>
<line x1="215.9" y1="361.62" x2="219.8" y2="361.62" stroke="#141414" stroke-width="1.3"/>
<text x="196.71" y="364.42" style="font-size:9.88px;fill:#262626;stroke:#262626;stroke-width:0px" textLength="10.04" lengthAdjust="spacingAndGlyphs">10</text>
<text x="207.09" y="358.92" style="font-size:5.59px;fill:#262626;stroke:#262626;stroke-width:0px" textLength="3.73" lengthAdjust="spacingAndGlyphs">9</text>
<line x1="215.9" y1="344.95" x2="219.8" y2="344.95" stroke="#141414" stroke-width="1.3"/>
<text x="194.21" y="347.75" style="font-size:9.88px;fill:#262626;stroke:#262626;stroke-width:0px" textLength="10.04" lengthAdjust="spacingAndGlyphs">10</text>
<text x="204.47" y="342.25" style="font-size:5.59px;fill:#262626;stroke:#262626;stroke-width:0px" textLength="6.25" lengthAdjust="spacingAndGlyphs">10</text>
<line x1="215.9" y1="328.28" x2="219.8" y2="328.28" stroke="#141414" stroke-width="1.3"/>
<text x="194.21" y="331.08" style="font-size:9.88px;fill:#262626;stroke:#262626;stroke-width:0px" textLength="10.04" lengthAdjust="spacingAndGlyphs">10</text>
<text x="204.47" y="325.58" style="font-size:5.67px;fill:#262626;stroke:#262626;stroke-width:0px" textLength="6.31" lengthAdjust="spacingAndGlyphs">11</text>
<line x1="215.9" y1="428.3" x2="346" y2="428.3" stroke="#141414" stroke-width="1.5"/>
<line x1="219.8" y1="428.3" x2="219.8" y2="432.9" stroke="#141414" stroke-width="1.3"/>
<text x="217.05" y="444.6" style="font-size:9.45px;fill:#262626;stroke:#262626;stroke-width:0px" textLength="5.7" lengthAdjust="spacingAndGlyphs">0</text>
<line x1="250.4" y1="428.3" x2="250.4" y2="432.9" stroke="#141414" stroke-width="1.3"/>
<text x="244.95" y="444.6" style="font-size:9.45px;fill:#262626;stroke:#262626;stroke-width:0px" textLength="10.98" lengthAdjust="spacingAndGlyphs">20</text>
<line x1="281" y1="428.3" x2="281" y2="432.9" stroke="#141414" stroke-width="1.3"/>
<text x="275.83" y="444.6" style="font-size:9.45px;fill:#262626;stroke:#262626;stroke-width:0px" textLength="10.7" lengthAdjust="spacingAndGlyphs">40</text>
<line x1="311.6" y1="428.3" x2="311.6" y2="432.9" stroke="#141414" stroke-width="1.3"/>
<text x="306.15" y="444.6" style="font-size:9.45px;fill:#262626;stroke:#262626;stroke-width:0px" textLength="10.99" lengthAdjust="spacingAndGlyphs">60</text>
<line x1="342.2" y1="428.3" x2="342.2" y2="432.9" stroke="#141414" stroke-width="1.3"/>
<text x="336.82" y="444.6" style="font-size:9.45px;fill:#262626;stroke:#262626;stroke-width:0px" textLength="10.91" lengthAdjust="spacingAndGlyphs">80</text>
<polyline points="230.37,372.62 236.41,356.95 250,341.62 260.57,338.62 271.14,427.47 281.71,427.47 292.28,427.47 302.85,427.47 313.42,427.47 323.99,427.47 334.56,426.97" fill="none" stroke="#bf1238" stroke-width="1.45" stroke-linejoin="round"/>
<rect x="229.17" y="371.42" width="2.4" height="2.4" fill="#bf1238"/>
<rect x="235.21" y="355.75" width="2.4" height="2.4" fill="#bf1238"/>
<rect x="248.8" y="340.42" width="2.4" height="2.4" fill="#bf1238"/>
<rect x="259.37" y="337.42" width="2.4" height="2.4" fill="#bf1238"/>
<rect x="269.94" y="426.27" width="2.4" height="2.4" fill="#bf1238"/>
<rect x="280.51" y="426.27" width="2.4" height="2.4" fill="#bf1238"/>
<rect x="291.08" y="426.27" width="2.4" height="2.4" fill="#bf1238"/>
<rect x="301.65" y="426.27" width="2.4" height="2.4" fill="#bf1238"/>
<rect x="312.22" y="426.27" width="2.4" height="2.4" fill="#bf1238"/>
<rect x="322.79" y="426.27" width="2.4" height="2.4" fill="#bf1238"/>
<rect x="333.36" y="425.77" width="2.4" height="2.4" fill="#bf1238"/>
<polyline points="230.37,377.46 236.41,361.62 250,350.78 260.57,354.45 271.14,427.47 281.71,427.97 292.28,426.97 302.85,426.63 313.42,427.47 323.99,427.47 334.56,427.47" fill="none" stroke="#bf1238" stroke-width="1.45" stroke-linejoin="round"/>
<rect x="229.17" y="376.26" width="2.4" height="2.4" fill="#bf1238"/>
<rect x="235.21" y="360.42" width="2.4" height="2.4" fill="#bf1238"/>
<rect x="248.8" y="349.58" width="2.4" height="2.4" fill="#bf1238"/>
<rect x="259.37" y="353.25" width="2.4" height="2.4" fill="#bf1238"/>
<rect x="269.94" y="426.27" width="2.4" height="2.4" fill="#bf1238"/>
<rect x="280.51" y="426.77" width="2.4" height="2.4" fill="#bf1238"/>
<rect x="291.08" y="425.77" width="2.4" height="2.4" fill="#bf1238"/>
<rect x="301.65" y="425.43" width="2.4" height="2.4" fill="#bf1238"/>
<rect x="312.22" y="426.27" width="2.4" height="2.4" fill="#bf1238"/>
<rect x="322.79" y="426.27" width="2.4" height="2.4" fill="#bf1238"/>
<rect x="333.36" y="426.27" width="2.4" height="2.4" fill="#bf1238"/>
<polyline points="230.37,385.96 236.41,367.79 250,355.62 260.57,361.12 271.14,426.63 281.71,427.47 302.85,427.47 334.56,426.97" fill="none" stroke="#bf1238" stroke-width="1.45" stroke-linejoin="round"/>
<rect x="229.17" y="384.76" width="2.4" height="2.4" fill="#bf1238"/>
<rect x="235.21" y="366.59" width="2.4" height="2.4" fill="#bf1238"/>
<rect x="248.8" y="354.42" width="2.4" height="2.4" fill="#bf1238"/>
<rect x="259.37" y="359.92" width="2.4" height="2.4" fill="#bf1238"/>
<rect x="269.94" y="425.43" width="2.4" height="2.4" fill="#bf1238"/>
<rect x="280.51" y="426.27" width="2.4" height="2.4" fill="#bf1238"/>
<rect x="301.65" y="426.27" width="2.4" height="2.4" fill="#bf1238"/>
<rect x="333.36" y="425.77" width="2.4" height="2.4" fill="#bf1238"/>
<polyline points="230.37,380.62 236.41,374.96 250,369.45 260.57,427.47 271.14,427.8" fill="none" stroke="#bf1238" stroke-width="1.45" stroke-linejoin="round"/>
<rect x="229.17" y="379.42" width="2.4" height="2.4" fill="#bf1238"/>
<rect x="235.21" y="373.76" width="2.4" height="2.4" fill="#bf1238"/>
<rect x="248.8" y="368.25" width="2.4" height="2.4" fill="#bf1238"/>
<rect x="259.37" y="426.27" width="2.4" height="2.4" fill="#bf1238"/>
<rect x="269.94" y="426.6" width="2.4" height="2.4" fill="#bf1238"/>
<polyline points="230.37,391.63 236.41,384.96 250,371.62 260.57,426.97" fill="none" stroke="#bf1238" stroke-width="1.45" stroke-linejoin="round"/>
<rect x="229.17" y="390.43" width="2.4" height="2.4" fill="#bf1238"/>
<rect x="235.21" y="383.76" width="2.4" height="2.4" fill="#bf1238"/>
<rect x="248.8" y="370.42" width="2.4" height="2.4" fill="#bf1238"/>
<rect x="259.37" y="425.77" width="2.4" height="2.4" fill="#bf1238"/>
<polyline points="230.37,398.29 236.41,396.63 250,376.62 260.57,427.47 271.14,427.47 281.71,427.47 292.28,426.97 302.85,426.63 313.42,427.47 323.99,427.47 334.56,426.97" fill="none" stroke="#bf1238" stroke-width="1.45" stroke-linejoin="round"/>
<rect x="229.17" y="397.09" width="2.4" height="2.4" fill="#bf1238"/>
<rect x="235.21" y="395.43" width="2.4" height="2.4" fill="#bf1238"/>
<rect x="248.8" y="375.42" width="2.4" height="2.4" fill="#bf1238"/>
<rect x="259.37" y="426.27" width="2.4" height="2.4" fill="#bf1238"/>
<rect x="269.94" y="426.27" width="2.4" height="2.4" fill="#bf1238"/>
<rect x="280.51" y="426.27" width="2.4" height="2.4" fill="#bf1238"/>
<rect x="291.08" y="425.77" width="2.4" height="2.4" fill="#bf1238"/>
<rect x="301.65" y="425.43" width="2.4" height="2.4" fill="#bf1238"/>
<rect x="312.22" y="426.27" width="2.4" height="2.4" fill="#bf1238"/>
<rect x="322.79" y="426.27" width="2.4" height="2.4" fill="#bf1238"/>
<rect x="333.36" y="425.77" width="2.4" height="2.4" fill="#bf1238"/>
<polyline points="230.37,407.46 236.41,401.63 250,381.62 260.57,427.47" fill="none" stroke="#bf1238" stroke-width="1.45" stroke-linejoin="round"/>
<rect x="229.17" y="406.26" width="2.4" height="2.4" fill="#bf1238"/>
<rect x="235.21" y="400.43" width="2.4" height="2.4" fill="#bf1238"/>
<rect x="248.8" y="380.42" width="2.4" height="2.4" fill="#bf1238"/>
<rect x="259.37" y="426.27" width="2.4" height="2.4" fill="#bf1238"/>
<polyline points="230.37,409.96 236.41,404.96 250,385.79 260.57,427.47 271.14,427.47 281.71,426.63 292.28,425.8 302.85,425.8 313.42,426.63 323.99,426.63 334.56,426.3" fill="none" stroke="#bf1238" stroke-width="1.45" stroke-linejoin="round"/>
<rect x="229.17" y="408.76" width="2.4" height="2.4" fill="#bf1238"/>
<rect x="235.21" y="403.76" width="2.4" height="2.4" fill="#bf1238"/>
<rect x="248.8" y="384.59" width="2.4" height="2.4" fill="#bf1238"/>
<rect x="259.37" y="426.27" width="2.4" height="2.4" fill="#bf1238"/>
<rect x="269.94" y="426.27" width="2.4" height="2.4" fill="#bf1238"/>
<rect x="280.51" y="425.43" width="2.4" height="2.4" fill="#bf1238"/>
<rect x="291.08" y="424.6" width="2.4" height="2.4" fill="#bf1238"/>
<rect x="301.65" y="424.6" width="2.4" height="2.4" fill="#bf1238"/>
<rect x="312.22" y="425.43" width="2.4" height="2.4" fill="#bf1238"/>
<rect x="322.79" y="425.43" width="2.4" height="2.4" fill="#bf1238"/>
<rect x="333.36" y="425.1" width="2.4" height="2.4" fill="#bf1238"/>
<polyline points="230.37,412.46 236.41,416.96 250,389.96 260.57,426.97" fill="none" stroke="#bf1238" stroke-width="1.45" stroke-linejoin="round"/>
<rect x="229.17" y="411.26" width="2.4" height="2.4" fill="#bf1238"/>
<rect x="235.21" y="415.76" width="2.4" height="2.4" fill="#bf1238"/>
<rect x="248.8" y="388.76" width="2.4" height="2.4" fill="#bf1238"/>
<rect x="259.37" y="425.77" width="2.4" height="2.4" fill="#bf1238"/>
<polyline points="230.37,411.63 236.41,406.63 250,406.96 260.57,398.29 271.14,414.63 292.28,419.46 302.85,420.47 313.42,421.63 323.99,413.3 334.56,412.3" fill="none" stroke="#bf1238" stroke-width="1.45" stroke-linejoin="round"/>
<rect x="229.17" y="410.43" width="2.4" height="2.4" fill="#bf1238"/>
<rect x="235.21" y="405.43" width="2.4" height="2.4" fill="#bf1238"/>
<rect x="248.8" y="405.76" width="2.4" height="2.4" fill="#bf1238"/>
<rect x="259.37" y="397.09" width="2.4" height="2.4" fill="#bf1238"/>
<rect x="269.94" y="413.43" width="2.4" height="2.4" fill="#bf1238"/>
<rect x="291.08" y="418.26" width="2.4" height="2.4" fill="#bf1238"/>
<rect x="301.65" y="419.27" width="2.4" height="2.4" fill="#bf1238"/>
<rect x="312.22" y="420.43" width="2.4" height="2.4" fill="#bf1238"/>
<rect x="322.79" y="412.1" width="2.4" height="2.4" fill="#bf1238"/>
<rect x="333.36" y="411.1" width="2.4" height="2.4" fill="#bf1238"/>
<polyline points="230.37,413.3 236.41,408.96 250,394.96 260.57,426.97 271.14,426.97 281.71,413.8 292.28,419.46" fill="none" stroke="#bf1238" stroke-width="1.45" stroke-linejoin="round"/>
<rect x="229.17" y="412.1" width="2.4" height="2.4" fill="#bf1238"/>
<rect x="235.21" y="407.76" width="2.4" height="2.4" fill="#bf1238"/>
<rect x="248.8" y="393.76" width="2.4" height="2.4" fill="#bf1238"/>
<rect x="259.37" y="425.77" width="2.4" height="2.4" fill="#bf1238"/>
<rect x="269.94" y="425.77" width="2.4" height="2.4" fill="#bf1238"/>
<rect x="280.51" y="412.6" width="2.4" height="2.4" fill="#bf1238"/>
<rect x="291.08" y="418.26" width="2.4" height="2.4" fill="#bf1238"/>
<polyline points="230.37,404.96 236.41,394.96 250,373.79 260.57,426.63 271.14,427.47 281.71,417.96 292.28,420.97 302.85,420.97" fill="none" stroke="#bf1238" stroke-width="1.45" stroke-linejoin="round"/>
<rect x="229.17" y="403.76" width="2.4" height="2.4" fill="#bf1238"/>
<rect x="235.21" y="393.76" width="2.4" height="2.4" fill="#bf1238"/>
<rect x="248.8" y="372.59" width="2.4" height="2.4" fill="#bf1238"/>
<rect x="259.37" y="425.43" width="2.4" height="2.4" fill="#bf1238"/>
<rect x="269.94" y="426.27" width="2.4" height="2.4" fill="#bf1238"/>
<rect x="280.51" y="416.76" width="2.4" height="2.4" fill="#bf1238"/>
<rect x="291.08" y="419.77" width="2.4" height="2.4" fill="#bf1238"/>
<rect x="301.65" y="419.77" width="2.4" height="2.4" fill="#bf1238"/>
<text x="231.98" y="304" style="font-size:13.25px;fill:#262626;stroke:#262626;stroke-width:0px" textLength="68.3" lengthAdjust="spacingAndGlyphs">Forimtamig</text>
<text x="235.2" y="317.5" style="font-size:9.94px;fill:#bf1238;stroke:#bf1238;stroke-width:0px" textLength="61.78" lengthAdjust="spacingAndGlyphs">0.5 mg/kg flat</text>
<text x="262.05" y="460.5" style="font-size:12.77px;fill:#262626;stroke:#262626;stroke-width:0px" textLength="49.57" lengthAdjust="spacingAndGlyphs">Study days</text>
<line x1="412.6" y1="328.28" x2="412.6" y2="428.3" stroke="#9a9a9a" stroke-width="1.1" stroke-dasharray="3.2 2.6"/>
<line x1="423.1" y1="328.28" x2="423.1" y2="428.3" stroke="#9a9a9a" stroke-width="1.1" stroke-dasharray="3.2 2.6"/>
<line x1="433.6" y1="328.28" x2="433.6" y2="428.3" stroke="#9a9a9a" stroke-width="1.1" stroke-dasharray="3.2 2.6"/>
<line x1="444.1" y1="328.28" x2="444.1" y2="428.3" stroke="#9a9a9a" stroke-width="1.1" stroke-dasharray="3.2 2.6"/>
<line x1="454.6" y1="328.28" x2="454.6" y2="428.3" stroke="#9a9a9a" stroke-width="1.1" stroke-dasharray="3.2 2.6"/>
<line x1="465.1" y1="328.28" x2="465.1" y2="428.3" stroke="#9a9a9a" stroke-width="1.1" stroke-dasharray="3.2 2.6"/>
<line x1="475.6" y1="328.28" x2="475.6" y2="428.3" stroke="#9a9a9a" stroke-width="1.1" stroke-dasharray="3.2 2.6"/>
<line x1="385" y1="416.6" x2="503.5" y2="416.6" stroke="#333" stroke-width="1" stroke-dasharray="1.3 1.7"/>
<line x1="382.2" y1="323.9" x2="382.2" y2="429" stroke="#141414" stroke-width="1.5"/>
<line x1="378.2" y1="428.3" x2="382.2" y2="428.3" stroke="#141414" stroke-width="1.3"/>
<text x="359.11" y="431.1" style="font-size:9.88px;fill:#262626;stroke:#262626;stroke-width:0px" textLength="10.04" lengthAdjust="spacingAndGlyphs">10</text>
<text x="369.54" y="425.6" style="font-size:5.67px;fill:#262626;stroke:#262626;stroke-width:0px" textLength="3.64" lengthAdjust="spacingAndGlyphs">5</text>
<line x1="378.2" y1="411.63" x2="382.2" y2="411.63" stroke="#141414" stroke-width="1.3"/>
<text x="359.11" y="414.43" style="font-size:9.88px;fill:#262626;stroke:#262626;stroke-width:0px" textLength="10.04" lengthAdjust="spacingAndGlyphs">10</text>
<text x="369.46" y="408.93" style="font-size:5.59px;fill:#262626;stroke:#262626;stroke-width:0px" textLength="3.74" lengthAdjust="spacingAndGlyphs">6</text>
<line x1="378.2" y1="394.96" x2="382.2" y2="394.96" stroke="#141414" stroke-width="1.3"/>
<text x="359.11" y="397.76" style="font-size:9.88px;fill:#262626;stroke:#262626;stroke-width:0px" textLength="10.04" lengthAdjust="spacingAndGlyphs">10</text>
<text x="369.45" y="392.26" style="font-size:5.67px;fill:#262626;stroke:#262626;stroke-width:0px" textLength="3.79" lengthAdjust="spacingAndGlyphs">7</text>
<line x1="378.2" y1="378.29" x2="382.2" y2="378.29" stroke="#141414" stroke-width="1.3"/>
<text x="359.11" y="381.09" style="font-size:9.88px;fill:#262626;stroke:#262626;stroke-width:0px" textLength="10.04" lengthAdjust="spacingAndGlyphs">10</text>
<text x="369.51" y="375.59" style="font-size:5.59px;fill:#262626;stroke:#262626;stroke-width:0px" textLength="3.67" lengthAdjust="spacingAndGlyphs">8</text>
<line x1="378.2" y1="361.62" x2="382.2" y2="361.62" stroke="#141414" stroke-width="1.3"/>
<text x="359.11" y="364.42" style="font-size:9.88px;fill:#262626;stroke:#262626;stroke-width:0px" textLength="10.04" lengthAdjust="spacingAndGlyphs">10</text>
<text x="369.49" y="358.92" style="font-size:5.59px;fill:#262626;stroke:#262626;stroke-width:0px" textLength="3.73" lengthAdjust="spacingAndGlyphs">9</text>
<line x1="378.2" y1="344.95" x2="382.2" y2="344.95" stroke="#141414" stroke-width="1.3"/>
<text x="356.61" y="347.75" style="font-size:9.88px;fill:#262626;stroke:#262626;stroke-width:0px" textLength="10.04" lengthAdjust="spacingAndGlyphs">10</text>
<text x="366.87" y="342.25" style="font-size:5.59px;fill:#262626;stroke:#262626;stroke-width:0px" textLength="6.25" lengthAdjust="spacingAndGlyphs">10</text>
<line x1="378.2" y1="328.28" x2="382.2" y2="328.28" stroke="#141414" stroke-width="1.3"/>
<text x="356.61" y="331.08" style="font-size:9.88px;fill:#262626;stroke:#262626;stroke-width:0px" textLength="10.04" lengthAdjust="spacingAndGlyphs">10</text>
<text x="366.87" y="325.58" style="font-size:5.67px;fill:#262626;stroke:#262626;stroke-width:0px" textLength="6.31" lengthAdjust="spacingAndGlyphs">11</text>
<line x1="378.2" y1="428.3" x2="508.3" y2="428.3" stroke="#141414" stroke-width="1.5"/>
<line x1="382.2" y1="428.3" x2="382.2" y2="432.9" stroke="#141414" stroke-width="1.3"/>
<text x="379.45" y="444.6" style="font-size:9.45px;fill:#262626;stroke:#262626;stroke-width:0px" textLength="5.7" lengthAdjust="spacingAndGlyphs">0</text>
<line x1="412.8" y1="428.3" x2="412.8" y2="432.9" stroke="#141414" stroke-width="1.3"/>
<text x="407.35" y="444.6" style="font-size:9.45px;fill:#262626;stroke:#262626;stroke-width:0px" textLength="10.98" lengthAdjust="spacingAndGlyphs">20</text>
<line x1="443.4" y1="428.3" x2="443.4" y2="432.9" stroke="#141414" stroke-width="1.3"/>
<text x="438.23" y="444.6" style="font-size:9.45px;fill:#262626;stroke:#262626;stroke-width:0px" textLength="10.7" lengthAdjust="spacingAndGlyphs">40</text>
<line x1="474" y1="428.3" x2="474" y2="432.9" stroke="#141414" stroke-width="1.3"/>
<text x="468.55" y="444.6" style="font-size:9.45px;fill:#262626;stroke:#262626;stroke-width:0px" textLength="10.99" lengthAdjust="spacingAndGlyphs">60</text>
<line x1="504.6" y1="428.3" x2="504.6" y2="432.9" stroke="#141414" stroke-width="1.3"/>
<text x="499.22" y="444.6" style="font-size:9.45px;fill:#262626;stroke:#262626;stroke-width:0px" textLength="10.91" lengthAdjust="spacingAndGlyphs">80</text>
<polyline points="392.91,378.29 400.56,363.62 422.75,348.28 443.4,427.47 455.64,427.8 466.35,427.47 477.06,427.97 498.48,427.47" fill="none" stroke="#1c4c7a" stroke-width="1.3" stroke-linejoin="round"/>
<polyline points="392.91,378.29 406.68,376.46 412.03,359.95 422.75,356.45 442.63,427.47 444.93,427.97" fill="none" stroke="#1c4c7a" stroke-width="1.3" stroke-linejoin="round"/>
<polyline points="392.91,378.29 400.56,376.62 411.27,373.29 422.75,378.29 434.22,416.63 441.87,418.13 454.11,424.97 464.82,422.63 474,423.8 487.77,422.13 496.95,423.8 496.95,427.3" fill="none" stroke="#1c4c7a" stroke-width="1.3" stroke-linejoin="round"/>
<polyline points="392.91,385.46 400.56,379.96 411.27,373.62 423.51,427.47 434.22,427.8" fill="none" stroke="#1c4c7a" stroke-width="1.3" stroke-linejoin="round"/>
<polyline points="392.91,392.79 400.56,388.29 411.27,374.96 423.51,426.97 434.22,427.47 455.64,427.47 466.35,426.63 477.06,427.47 487.77,426.97" fill="none" stroke="#1c4c7a" stroke-width="1.3" stroke-linejoin="round"/>
<polyline points="392.91,398.29 400.56,394.96 412.03,388.29 423.51,426.63" fill="none" stroke="#1c4c7a" stroke-width="1.3" stroke-linejoin="round"/>
<polyline points="392.91,406.63 400.56,403.3 411.27,379.96 421.98,427.47" fill="none" stroke="#1c4c7a" stroke-width="1.3" stroke-linejoin="round"/>
<polyline points="392.91,411.96 400.56,420.13 411.27,407.46 421.98,426.97 444.93,427.47 466.35,424.97 477.06,426.63" fill="none" stroke="#1c4c7a" stroke-width="1.3" stroke-linejoin="round"/>
<polyline points="395.97,428.3 411.27,392.79 421.98,427.47" fill="none" stroke="#1c4c7a" stroke-width="1.3" stroke-linejoin="round"/>
<polyline points="392.91,411.63 400.56,406.63 411.27,396.63 421.98,426.63 434.22,427.47" fill="none" stroke="#1c4c7a" stroke-width="1.3" stroke-linejoin="round"/>
<polyline points="392.91,389.96 400.56,393.29 411.27,384.96 423.51,427.47" fill="none" stroke="#1c4c7a" stroke-width="1.3" stroke-linejoin="round"/>
<text x="409.76" y="303.7" style="font-size:12.28px;fill:#262626;stroke:#262626;stroke-width:0px" textLength="69.33" lengthAdjust="spacingAndGlyphs">Forimtamig</text>
<text x="385.15" y="317.7" style="font-size:9.94px;fill:#1c4c7a;stroke:#1c4c7a;stroke-width:0px" textLength="118.8" lengthAdjust="spacingAndGlyphs">SUD 0.005-0.05-0.5 mg/kg</text>
<text x="430.55" y="461" style="font-size:13.11px;fill:#262626;stroke:#262626;stroke-width:0px" textLength="49.31" lengthAdjust="spacingAndGlyphs">Study days</text>
<line x1="225" y1="477.5" x2="243" y2="477.5" stroke="#8a8a8a" stroke-width="1.3" stroke-dasharray="3.6 3"/>
<text x="246.85" y="482" style="font-size:11.39px;fill:#9a9a9a;stroke:#9a9a9a;stroke-width:0px" textLength="94.47" lengthAdjust="spacingAndGlyphs">forimtamig treatment</text>
</svg></body></html>
